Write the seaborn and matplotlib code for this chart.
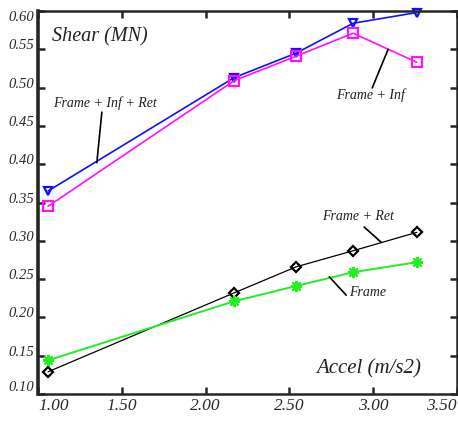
import matplotlib
matplotlib.use("Agg")
import matplotlib.pyplot as plt
import seaborn as sns
import pandas as pd

accel = [1.06, 2.17, 2.54, 2.88, 3.26]
frame_inf_ret = [0.365, 0.513, 0.545, 0.584, 0.598]
frame_inf = [0.345, 0.509, 0.541, 0.571, 0.533]
frame_ret = [0.129, 0.232, 0.266, 0.287, 0.311]
frame = [0.144, 0.221, 0.241, 0.259, 0.272]

x_ticks = [1.0, 1.5, 2.0, 2.5, 3.0, 3.5]
x_labels = ["1.00", "1.50", "2.00", "2.50", "3.00", "3.50"]
y_ticks = [0.10, 0.15, 0.20, 0.25, 0.30, 0.35, 0.40, 0.45, 0.50, 0.55, 0.60]
y_labels = ["0.10", "0.15", "0.20", "0.25", "0.30", "0.35", "0.40", "0.45", "0.50", "0.55", "0.60"]

sns.set_style("ticks")
plt.rcParams['font.family'] = ['Liberation Serif', 'DejaVu Serif']

fig = plt.figure(figsize=(4.58, 4.21), dpi=100)
ax = fig.add_axes([38/458, 27/421, 419/458, 383/421])

series = [
    (frame_inf_ret, "#1010ff", "v", 1.2, 6, "none"),
    (frame_inf, "#ff10ff", "s", 1.2, 7, "none"),
    (frame_ret, "#000000", "D", 0.9, 5, "none"),
    (frame, "#22ee22", (8, 2, 0), 1.4, 8, None),
]
for vals, col, mk, lw, ms, mfc in series:
    df = pd.DataFrame({"x": accel, "y": vals})
    sns.lineplot(data=df, x="x", y="y", ax=ax, color=col, lw=lw, marker=mk,
                 markersize=ms, markeredgecolor=col, markeredgewidth=1.6,
                 markerfacecolor=(mfc if mfc else col), sort=False, clip_on=False)

ax.set_xlim(1.0, 3.5)
ax.set_ylim(0.10, 0.60)
ax.set_xlabel("")
ax.set_ylabel("")
ax.set_xticks(x_ticks)
ax.set_yticks(y_ticks)
ax.set_xticklabels(x_labels, fontsize=12.5, style='italic', color='#2a2a2a')
ax.set_yticklabels(y_labels, fontsize=10.5, style='italic', color='#2a2a2a')
xl = ax.get_xticklabels()
xl[0].set_ha('left')
xl[-1].set_ha('right')
yl = ax.get_yticklabels()
for t in yl:
    t.set_va('baseline')
yl[-1].set_va('top')
yl[0].set_va('bottom')

ax.tick_params(axis='both', direction='in', length=5, width=1.8, top=True, right=True, pad=3)
ax.tick_params(axis='y', pad=3)
for s in ax.spines.values():
    s.set_visible(True)
    s.set_linewidth(1.8)
ax.spines['left'].set_linewidth(2.6)

ax.text(0.033, 0.932, "Shear (MN)", transform=ax.transAxes, fontsize=14.5, style='italic',
        ha='left', va='center', color='#222222')
ax.text(0.914, 0.065, "Accel (m/s2)", transform=ax.transAxes, fontsize=15, style='italic',
        ha='right', va='center', color='#222222')

ann = [
    ("Frame + Inf + Ret", (1.399, 0.480), (1.381, 0.468), (1.351, 0.402)),
    ("Frame + Inf", (2.982, 0.490), (2.994, 0.4995), (3.089, 0.550)),
    ("Frame + Ret", (2.911, 0.332), (2.946, 0.318), (3.048, 0.298)),
    ("Frame", (2.964, 0.232), (2.839, 0.229), (2.738, 0.253)),
]
for txt, tp, a, b in ann:
    ax.text(tp[0], tp[1], txt, fontsize=10, style='italic', ha='center', va='center', color='#222222')
    ax.plot([a[0], b[0]], [a[1], b[1]], color='black', lw=1.2)

fig.savefig("out.png", dpi=100)
